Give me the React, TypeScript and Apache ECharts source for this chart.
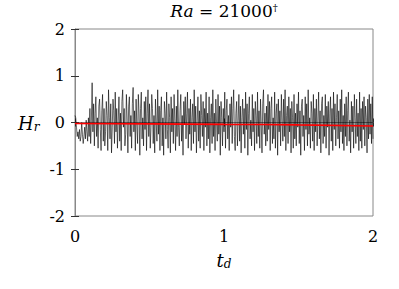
import React, { useEffect, useRef } from "react";
import * as echarts from "echarts";

const tStep = 0.005;
const hrValues: number[] = [
  0.15, 0.1, -0.1, -0.3, -0.2, -0.35, -0.15, -0.4, -0.3, 0.0, -0.25, -0.45, -0.3, -0.1, -0.35, 0.05, -0.2, -0.4, 0.1, -0.3,
  0.3, -0.45, 0.05, 0.85, -0.2, 0.4, -0.5, 0.2, 0.55, -0.3, 0.1, -0.55, 0.35, 0.5, -0.15, -0.6, 0.25, 0.6, -0.4, 0.3,
  -0.5, -0.2, 0.45, 0.15, -0.6, 0.7, 0.1, -0.35, 0.4, -0.65, -0.1, 0.5, 0.25, -0.45, 0.65, -0.2, 0.3, -0.55, 0.05, 0.55,
  -0.4, 0.2, -0.6, 0.45, 0.7, -0.1, 0.3, -0.5, -0.25, 0.6, 0.05, -0.65, 0.35, 0.55, -0.3, 0.15, -0.55, 0.4, 0.75, -0.2,
  0.25, -0.6, 0.5, -0.05, -0.45, 0.6, 0.2, -0.7, 0.3, 0.65, -0.35, 0.1, -0.5, 0.45, -0.15, 0.55, -0.6, 0.2, 0.7, -0.3,
  0.4, -0.55, -0.1, 0.6, 0.3, -0.45, 0.15, -0.65, 0.5, 0.0, -0.4, 0.7, -0.25, 0.35, -0.6, 0.25, 0.55, -0.5, 0.1, -0.7,
  0.45, 0.2, -0.35, 0.65, -0.15, -0.55, 0.4, 0.1, -0.65, 0.55, -0.2, 0.3, -0.45, 0.6, 0.05, -0.6, 0.35, -0.3, 0.7, -0.1,
  -0.5, 0.25, 0.6, -0.4, 0.15, -0.7, 0.45, -0.05, 0.55, -0.35, 0.2, 0.65, -0.55, 0.3, -0.25, 0.5, -0.6, 0.1, 0.4, -0.45,
  0.7, -0.2, 0.35, -0.65, 0.05, 0.55, -0.4, 0.25, -0.55, 0.6, 0.15, -0.3, 0.45, -0.6, 0.3, -0.1, 0.65, -0.5, 0.2, -0.35,
  0.55, -0.65, 0.1, 0.4, -0.45, 0.7, -0.3, 0.2, -0.6, 0.5, 0.0, -0.4, 0.6, -0.25, 0.35, -0.7, 0.45, 0.1, -0.5, 0.3,
  -0.2, 0.65, -0.55, 0.25, 0.5, -0.35, 0.15, -0.6, 0.4, -0.1, 0.55, -0.45, 0.3, 0.7, -0.3, -0.6, 0.2, 0.45, -0.5, 0.05,
  0.6, -0.4, 0.35, -0.65, 0.1, 0.5, -0.25, 0.3, -0.55, 0.65, -0.15, 0.4, -0.7, 0.2, 0.55, -0.35, 0.05, -0.5, 0.6, -0.2,
  0.3, -0.6, 0.45, 0.15, -0.45, 0.65, -0.3, 0.25, -0.55, 0.5, -0.05, -0.65, 0.4, 0.7, -0.25, 0.2, -0.5, 0.35, -0.4, 0.6,
  -0.15, 0.45, -0.6, 0.3, 0.55, -0.45, 0.1, -0.35, 0.65, -0.55, 0.2, 0.4, -0.7, 0.5, -0.2, 0.25, -0.5, 0.6, 0.05, -0.4,
  0.5, -0.3, 0.7, -0.6, 0.15, 0.35, -0.45, 0.55, -0.2, 0.3, -0.65, 0.45, 0.1, -0.55, 0.6, -0.35, 0.2, -0.5, 0.4, -0.1,
  0.65, -0.45, 0.25, -0.7, 0.35, 0.5, -0.3, 0.15, -0.6, 0.55, -0.15, 0.4, -0.5, 0.7, -0.25, 0.1, -0.55, 0.45, 0.2, -0.4,
  0.6, -0.6, 0.3, -0.2, 0.5, -0.5, 0.05, 0.65, -0.35, 0.25, -0.65, 0.4, 0.55, -0.45, 0.15, -0.3, 0.6, -0.55, 0.35, -0.1,
  0.45, -0.7, 0.2, 0.55, -0.4, 0.3, -0.6, 0.65, -0.15, 0.4, -0.5, 0.1, 0.6, -0.35, 0.25, -0.55, 0.5, -0.2, 0.7, -0.45,
  0.15, -0.6, 0.4, -0.3, 0.55, -0.5, 0.25, 0.65, -0.4, 0.05, -0.65, 0.45, -0.2, 0.35, -0.55, 0.6, 0.1, -0.45, 0.5, -0.3,
  0.2, -0.6, 0.65, -0.4, 0.3, -0.55, 0.45, -0.15, 0.55, -0.5, 0.35, 0.1, -0.65, 0.5, -0.35, 0.6, -0.25, 0.4, -0.45, 0.55,
  -0.35,
];
const trendT: number[] = [0, 0.5, 1, 1.5, 2];
const trendValues: number[] = [-0.02, -0.03, -0.04, -0.05, -0.075];
const xTicks: number[] = [0, 1, 2];
const yTicks: number[] = [-2, -1, 0, 1, 2];

const SERIF = "DejaVu Serif, serif";

export default function App() {
  const ref = useRef<HTMLDivElement>(null);
  useEffect(() => {
    if (!ref.current) return;
    const chart = echarts.init(ref.current, undefined, { renderer: "svg" });
    const signal = hrValues.map((v, i) => [+(i * tStep).toFixed(3), v]);
    const trend = trendT.map((t, i) => [t, trendValues[i]]);
    const frameColor = "#888888";
    const tickStyle = { show: true, inside: true, length: 4, lineStyle: { color: "#333", width: 1 } };
    const fmt = (v: number) => (v < 0 ? "-" + Math.abs(v) : String(v));
    chart.setOption({
      animation: false,
      backgroundColor: "#ffffff",
      grid: { left: 75, right: 26, top: 29, bottom: 73, show: true, borderColor: frameColor, borderWidth: 1, backgroundColor: "transparent" },
      xAxis: [
        {
          type: "value", min: xTicks[0], max: xTicks[xTicks.length - 1], interval: 1,
          axisLine: { show: true, lineStyle: { color: frameColor } },
          axisTick: tickStyle,
          splitLine: { show: false },
          axisLabel: { margin: 12, fontFamily: SERIF, fontSize: 16, color: "#000", formatter: fmt },
        },
        {
          type: "value", position: "top", min: 0, max: 2, interval: 1,
          axisLine: { show: false }, axisTick: tickStyle, axisLabel: { show: false }, splitLine: { show: false },
        },
      ],
      yAxis: [
        {
          type: "value", min: yTicks[0], max: yTicks[yTicks.length - 1], interval: 1,
          axisLine: { show: true, lineStyle: { color: frameColor } },
          axisTick: tickStyle,
          splitLine: { show: false },
          axisLabel: { margin: 10, fontFamily: SERIF, fontSize: 16, color: "#000", formatter: fmt },
        },
        {
          type: "value", position: "right", min: -2, max: 2, interval: 1,
          axisLine: { show: false }, axisTick: tickStyle, axisLabel: { show: false }, splitLine: { show: false },
        },
      ],
      series: [
        {
          type: "line", data: signal, showSymbol: false, symbol: "none",
          lineStyle: { color: "#000000", width: 0.6 }, z: 2,
        },
        {
          type: "line", data: trend, showSymbol: false, symbol: "none", smooth: true,
          lineStyle: { color: "#ff0000", width: 1.6 }, z: 3,
        },
      ],
      graphic: [
        {
          type: "text", x: 224, y: 2,
          style: {
            text: "{i|Ra} = 21000{s|†}", textAlign: "center", fontFamily: SERIF, fontSize: 17, fill: "#000",
            rich: {
              i: { fontStyle: "italic", fontFamily: SERIF, fontSize: 17 },
              s: { fontFamily: SERIF, fontSize: 10, verticalAlign: "top", padding: [0, 0, 8, 0] },
            },
          },
        },
        {
          type: "text", x: 18, y: 113,
          style: {
            text: "{i|H}{s|r}", fontFamily: SERIF, fontSize: 18, fill: "#000",
            rich: {
              i: { fontStyle: "italic", fontFamily: SERIF, fontSize: 18 },
              s: { fontStyle: "italic", fontFamily: SERIF, fontSize: 12, padding: [8, 0, 0, 0] },
            },
          },
        },
        {
          type: "text", x: 224, y: 250,
          style: {
            text: "{i|t}{s|d}", textAlign: "center", fontFamily: SERIF, fontSize: 18, fill: "#000",
            rich: {
              i: { fontStyle: "italic", fontFamily: SERIF, fontSize: 18 },
              s: { fontStyle: "italic", fontFamily: SERIF, fontSize: 12, padding: [8, 0, 0, 0] },
            },
          },
        },
      ],
    });
    return () => chart.dispose();
  }, []);
  return <div ref={ref} style={{ width: 399, height: 289, position: "absolute", left: 0, top: 0 }} />;
}
